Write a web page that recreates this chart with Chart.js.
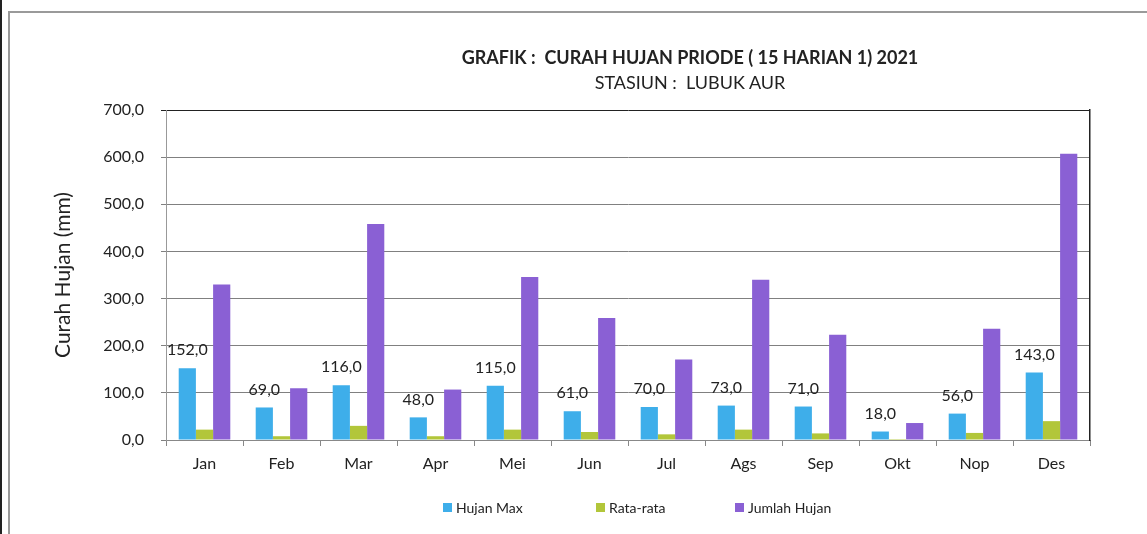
<!DOCTYPE html>
<html>
<head>
<meta charset="utf-8">
<script src="https://cdn.jsdelivr.net/npm/chart.js@4.4.1/dist/chart.umd.min.js"></script>
<style>
  body{margin:0;background:#fff;}
  #wrap{position:relative;width:1147px;height:534px;overflow:hidden;font-family:Lato,'Open Sans',sans-serif;color:#222;}
  #edge{position:absolute;left:0;top:0;width:2px;height:534px;background:#222;}
  #frame{position:absolute;left:8px;top:11px;width:1160px;height:540px;border-left:2px solid #9a9a9a;border-top:2px solid #9a9a9a;}
  #chart{position:absolute;left:0;top:0;}
  .ttl{position:absolute;left:390px;width:600px;text-align:center;font-size:18px;}
  #title{top:46px;font-weight:bold;}
  #sub{top:71px;}
  #legend{position:absolute;left:443px;top:499px;display:flex;font-size:14px;}
  #legend .it{display:flex;align-items:center;}
  #legend .sw{width:9px;height:9px;margin-right:4px;}
</style>
</head>
<body>
<div id="wrap">
  <div id="edge"></div>
  <div id="frame"></div>
  <canvas id="chart" width="1147" height="534"></canvas>
  <div class="ttl" id="title">GRAFIK :&nbsp; CURAH HUJAN PRIODE ( 15 HARIAN 1) 2021</div>
  <div class="ttl" id="sub">STASIUN :&nbsp; LUBUK AUR</div>
  <div id="legend"></div>
</div>
<script>
const bulan = ['Jan','Feb','Mar','Apr','Mei','Jun','Jul','Ags','Sep','Okt','Nop','Des'];
const hujanMax = [152,69,116,48,115,61,70,73,71,18,56,143];
const rataRata = [22,8,30,8,22,17,12,22,14,2,15,40];
const jumlahHujan = [330,110,458,107,346,259,171,340,223,36,236,607];
const yTicks = [0,100,200,300,400,500,600,700];

const seriesNames = ['Hujan Max','Rata-rata','Jumlah Hujan'];
const seriesColors = ['#3eaeea','#b2c63a','#8a60d4'];

function fmt(v){ return v.toFixed(1).replace('.',','); }

// label angka di atas batang Hujan Max
const barLabels = {
  id:'barLabels',
  afterDatasetsDraw(chart){
    const ctx = chart.ctx;
    const meta = chart.getDatasetMeta(0);
    ctx.save();
    ctx.font = '16px Lato, "Open Sans", sans-serif';
    ctx.fillStyle = '#222';
    ctx.textAlign = 'center';
    ctx.textBaseline = 'middle';
    meta.data.forEach((bar,i)=>{
      ctx.fillText(fmt(hujanMax[i]), bar.x, bar.y - 18);
    });
    ctx.restore();
  }
};

const padLeft = 51;

new Chart(document.getElementById('chart'),{
  type:'bar',
  data:{
    labels: bulan,
    datasets:[hujanMax,rataRata,jumlahHujan].map((d,i)=>({
      label: seriesNames[i],
      data: d,
      backgroundColor: seriesColors[i],
      borderWidth: 0,
      categoryPercentage: 0.67,
      barPercentage: 1.0
    }))
  },
  options:{
    responsive:false,
    animation:false,
    layout:{padding:{left:padLeft,right:57,top:110,bottom:50}},
    plugins:{legend:{display:false},tooltip:{enabled:false}},
    scales:{
      x:{
        grid:{drawOnChartArea:false,tickLength:6,color:'#888'},
        border:{color:'#888'},
        ticks:{font:{size:16,family:'Lato'},color:'#222',padding:8},
        afterFit(s){ s.height = 44; }
      },
      y:{
        min:0,max:700,
        afterBuildTicks(s){ s.ticks = yTicks.map(v=>({value:v})); },
        ticks:{font:{size:16,family:'Lato'},color:'#222',padding:17,callback:v=>fmt(v)},
        grid:{color:c=>c.tick && c.tick.value===700?'#222':'#808080',tickLength:5},
        border:{color:'#999'},
        title:{display:true,text:'Curah Hujan (mm)',font:{size:21,family:'Lato'},color:'#222',padding:0},
        afterFit(s){ s.width = 166 - padLeft; }
      },
      y2:{
        type:'linear',position:'right',min:0,max:700,
        ticks:{display:false},
        grid:{display:false},
        border:{color:'#222',width:1.5},
        afterFit(s){ s.width = 0; }
      }
    }
  },
  plugins:[barLabels]
});

const leg = document.getElementById('legend');
const itemW = [153,139,null];
seriesNames.forEach((n,i)=>{
  const it = document.createElement('div');
  it.className = 'it';
  if(itemW[i]) it.style.width = itemW[i]+'px';
  it.innerHTML = `<span class="sw" style="background:${seriesColors[i]}"></span><span>${n}</span>`;
  leg.appendChild(it);
});
</script>
</body>
</html>
